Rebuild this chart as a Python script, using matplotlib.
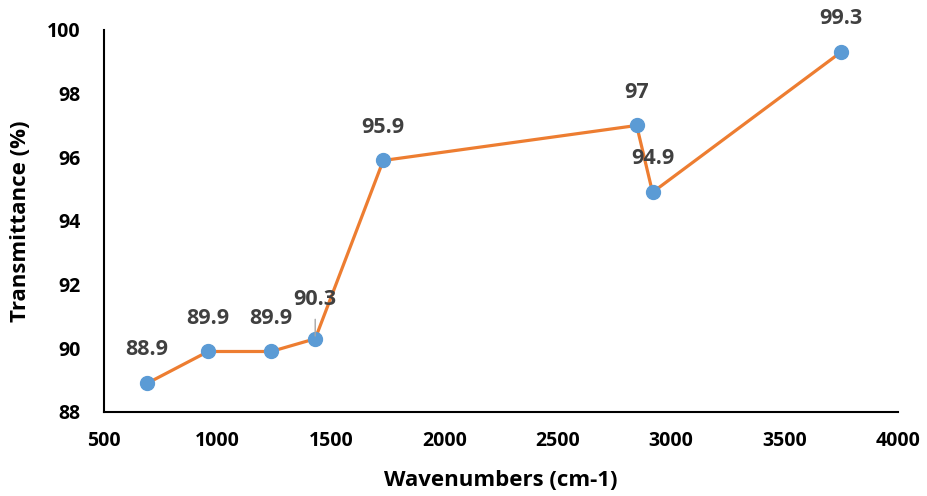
import matplotlib.pyplot as plt

plt.rcParams['font.family'] = ['Open Sans', 'DejaVu Sans']

# data
wavenumbers = [690, 959, 1237, 1431, 1731, 2848, 2918, 3748]
transmittance = [88.9, 89.9, 89.9, 90.3, 95.9, 97.0, 94.9, 99.3]
labels = ['88.9', '89.9', '89.9', '90.3', '95.9', '97', '94.9', '99.3']

fig = plt.figure(figsize=(9.27, 4.96), dpi=100)
ax = fig.add_axes([0.1122, 0.1694, 0.8565, 0.7702])

ax.plot(wavenumbers, transmittance, color='#ED7D31', lw=2.3, zorder=2)
ax.plot(wavenumbers, transmittance, 'o', color='#5B9BD5', ms=10, zorder=3)

for x, y, t in zip(wavenumbers, transmittance, labels):
    if t == '90.3':
        ax.annotate(t, (x, y), xytext=(0, 28), textcoords='offset points',
                    ha='center', va='center', fontsize=15.5, fontweight='bold',
                    color='#404040')
        ax.annotate('', (x, y), xytext=(0, 16), textcoords='offset points',
                    arrowprops=dict(arrowstyle='-', color='#A6A6A6', lw=1))
    else:
        ax.annotate(t, (x, y), xytext=(0, 24), textcoords='offset points',
                    ha='center', va='center', fontsize=15.5, fontweight='bold',
                    color='#404040')

ax.set_xlim(500, 4000)
ax.set_ylim(88, 100)
ax.set_xticks(range(500, 4001, 500))
ax.set_yticks(range(88, 101, 2))

for s in ['top', 'right']:
    ax.spines[s].set_visible(False)
for s in ['left', 'bottom']:
    ax.spines[s].set_linewidth(1.5)
    ax.spines[s].set_color('black')
ax.tick_params(length=0, labelsize=14)
ax.tick_params(axis='x', pad=14)
ax.tick_params(axis='y', pad=17)
for lb in ax.get_xticklabels() + ax.get_yticklabels():
    lb.set_fontweight('bold')

ax.set_xlabel('Wavenumbers (cm-1)', fontsize=16, fontweight='bold')
ax.set_ylabel('Transmittance (%)', fontsize=16, fontweight='bold')
ax.xaxis.set_label_coords(0.5, -0.152)
ax.yaxis.set_label_coords(-0.092, 0.5)

fig.savefig('out.png', dpi=100)
